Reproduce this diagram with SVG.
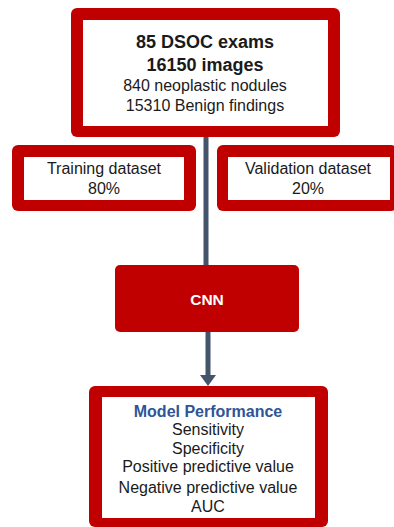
<svg xmlns="http://www.w3.org/2000/svg" width="394" height="527" viewBox="0 0 394 527">
<style>
.frame{fill:#c00000}
.inner{fill:#ffffff}
.t{font-family:"Liberation Sans",Arial,sans-serif;font-size:16px;fill:#1a1a1a;text-anchor:middle}
.b{font-weight:bold}
.conn{stroke:#44546a;stroke-width:5;fill:none}
</style>
<rect width="394" height="527" fill="#ffffff"/>
<g id="connectors">
<line class="conn" x1="206" y1="136" x2="206" y2="266"/>
<line class="conn" x1="208" y1="331" x2="208" y2="377"/>
<polygon points="200,375 216,375 208,386" fill="#44546a"/>
</g>
<g id="dataset">
<rect class="frame" x="71" y="8" width="269" height="129" rx="6"/>
<rect class="inner" x="83" y="20" width="245" height="106"/>
<text class="t b" x="205" y="47.5" style="font-size:18px">85 DSOC exams</text>
<text class="t b" x="205" y="71" style="font-size:18px">16150 images</text>
<text class="t" x="205" y="90.5">840 neoplastic nodules</text>
<text class="t" x="205" y="111">15310 Benign findings</text>
</g>
<g id="training">
<rect class="frame" x="12" y="145" width="184" height="66" rx="6"/>
<rect class="inner" x="24" y="157" width="160" height="43"/>
<text class="t" x="104" y="174">Training dataset</text>
<text class="t" x="104" y="194">80%</text>
</g>
<g id="validation">
<rect class="frame" x="217" y="145" width="180" height="66" rx="6"/>
<rect class="inner" x="228" y="157" width="162" height="43"/>
<text class="t" x="308" y="174">Validation dataset</text>
<text class="t" x="308" y="194">20%</text>
</g>
<g id="cnn">
<rect class="frame" x="115" y="265" width="184" height="67" rx="5"/>
<text class="t b" x="207" y="304.5" style="font-size:15.5px;fill:#ffffff">CNN</text>
</g>
<g id="performance">
<rect class="frame" x="89" y="386" width="239" height="141" rx="6"/>
<rect class="inner" x="102" y="397" width="213" height="121"/>
<text class="t b" x="208" y="416.5" style="fill:#2f5597">Model Performance</text>
<text class="t" x="208" y="435">Sensitivity</text>
<text class="t" x="208" y="453.5">Specificity</text>
<text class="t" x="208" y="472">Positive predictive value</text>
<text class="t" x="208" y="492.5">Negative predictive value</text>
<text class="t" x="208" y="512">AUC</text>
</g>
</svg>
